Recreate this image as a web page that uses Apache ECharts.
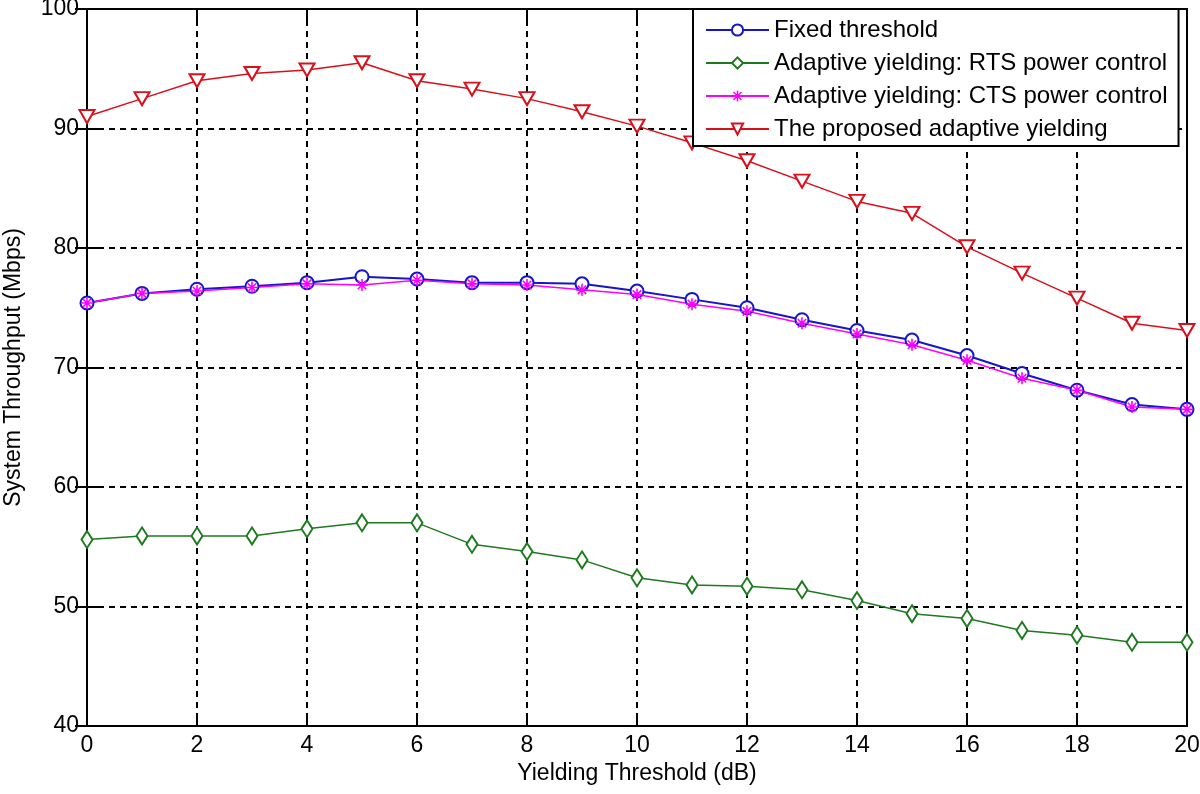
<!DOCTYPE html>
<html>
<head>
<meta charset="utf-8">
<script src="https://cdn.jsdelivr.net/npm/echarts@6/dist/echarts.min.js"></script>
<style>html,body{margin:0;padding:0;background:#fff}#c{width:1200px;height:794px}</style>
</head>
<body>
<div id="c"></div>
<script>
var thresholds = [0,1,2,3,4,5,6,7,8,9,10,11,12,13,14,15,16,17,18,19,20];
var fixedThreshold = [75.4,76.2,76.55,76.8,77.1,77.6,77.4,77.1,77.1,77.0,76.4,75.7,75.0,74.0,73.1,72.3,71.0,69.5,68.1,66.9,66.5];
var rtsPower = [55.6,55.9,55.9,55.9,56.5,57.0,57.0,55.2,54.6,53.9,52.4,51.8,51.7,51.4,50.5,49.4,49.0,48.0,47.6,47.0,47.0];
var ctsPower = [75.4,76.2,76.4,76.7,77.0,76.9,77.3,77.0,76.9,76.5,76.1,75.3,74.7,73.7,72.8,71.9,70.6,69.1,68.1,66.7,66.5];
var proposed = [91.0,92.5,94.0,94.6,94.9,95.5,94.0,93.3,92.5,91.4,90.2,88.8,87.3,85.6,83.9,82.9,80.1,77.9,75.8,73.7,73.1];
var seriesNames = ['Fixed threshold','Adaptive yielding: RTS power control','Adaptive yielding: CTS power control','The proposed adaptive yielding'];

function pairs(vals){ return thresholds.map(function(x,i){ return [x, vals[i]]; }); }
var FONT = 'Liberation Sans';
var star = 'path://M-0.8,-6 L0.8,-6 L0.8,6 L-0.8,6 Z M-6,-0.8 L6,-0.8 L6,0.8 L-6,0.8 Z M-4.8,-3.7 L-3.7,-4.8 L4.8,3.7 L3.7,4.8 Z M3.7,-4.8 L4.8,-3.7 L-3.7,4.8 L-4.8,3.7 Z';

var chart = echarts.init(document.getElementById('c'), null, {renderer:'canvas'});
var dashed = {show:true, lineStyle:{color:'#000', type:[6,5], width:2}};
chart.setOption({
  animation:false,
  backgroundColor:'#fff',
  grid:{left:87, right:13, top:9, bottom:68, containLabel:false, outerBoundsMode:'none',
        show:true, borderColor:'#000', borderWidth:2, backgroundColor:'transparent'},
  legend:{
    orient:'vertical', left:693, top:9,
    padding:[9,11,5,12], itemGap:9, itemWidth:63, itemHeight:14,
    borderColor:'#000', borderWidth:2, backgroundColor:'#fff',
    textStyle:{fontFamily:FONT, fontSize:24, color:'#000'},
    data:seriesNames
  },
  xAxis:[{
    type:'value', min:0, max:20, interval:2,
    name:'Yielding Threshold (dB)', nameLocation:'middle', nameGap:35,
    nameTextStyle:{fontFamily:FONT, fontSize:23, color:'#000'},
    axisLine:{show:true, lineStyle:{color:'#000', width:2}},
    axisTick:{show:true, inside:true, length:12, lineStyle:{color:'#000', width:2}},
    axisLabel:{fontFamily:FONT, fontSize:23, color:'#000', margin:8},
    splitLine:dashed
  },{
    type:'value', min:0, max:20, interval:2, position:'top',
    axisLine:{show:true, lineStyle:{color:'#000', width:2}},
    axisTick:{show:true, inside:true, length:12, lineStyle:{color:'#000', width:2}},
    axisLabel:{show:false}, splitLine:{show:false}
  }],
  yAxis:[{
    type:'value', min:40, max:100, interval:10,
    name:'System Throughput (Mbps)', nameLocation:'middle', nameGap:62,
    nameTextStyle:{fontFamily:FONT, fontSize:23, color:'#000'},
    axisLine:{show:true, lineStyle:{color:'#000', width:2}},
    axisTick:{show:true, inside:true, length:12, lineStyle:{color:'#000', width:2}},
    axisLabel:{fontFamily:FONT, fontSize:23, color:'#000', margin:8},
    splitLine:dashed
  },{
    type:'value', min:40, max:100, interval:10, position:'right',
    axisLine:{show:true, lineStyle:{color:'#000', width:2}},
    axisTick:{show:true, inside:true, length:12, lineStyle:{color:'#000', width:2}},
    axisLabel:{show:false}, splitLine:{show:false}
  }],
  series:[
    {name:seriesNames[0], type:'line', data:pairs(fixedThreshold), symbol:'emptyCircle', symbolSize:13,
     lineStyle:{color:'#1616c8', width:2}, itemStyle:{color:'#1616c8', borderWidth:1.5}},
    {name:seriesNames[1], type:'line', data:pairs(rtsPower), symbol:'emptyDiamond', symbolSize:[11,17],
     lineStyle:{color:'#1e7a1e', width:1.5}, itemStyle:{color:'#1e7a1e', borderWidth:1.5}},
    {name:seriesNames[2], type:'line', data:pairs(ctsPower), symbol:star, symbolSize:12,
     lineStyle:{color:'#ff00ff', width:1.5}, itemStyle:{color:'#ff00ff'}},
    {name:seriesNames[3], type:'line', data:pairs(proposed), symbol:'emptyTriangle', symbolRotate:180, symbolSize:[15,13],
     lineStyle:{color:'#d8101c', width:1.5}, itemStyle:{color:'#d8101c', borderWidth:1.5}}
  ]
});
</script>
</body>
</html>
